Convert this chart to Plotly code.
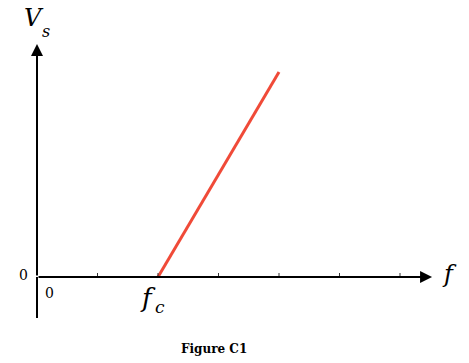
import plotly.graph_objects as go

# data
f_line = [2.0, 4.0]          # fc -> upper end (tick units)
vs_line = [0.0, 4.1]
tick_vals = [1, 2, 3, 4, 5, 6]

# axes extents (data units)
x_axis_end = 6.53
y_axis_top = 4.66
y_axis_bottom = -0.82

fig = go.Figure()
fig.add_trace(go.Scatter(x=f_line, y=vs_line, mode="lines",
                         line=dict(color="#f04a38", width=3), showlegend=False,
                         hoverinfo="skip"))

serif = "DejaVu Serif"
shapes = []
shapes.append(dict(type="line", x0=0, x1=0, y0=y_axis_bottom, y1=0,
                   line=dict(color="black", width=2)))
for t in tick_vals:
    shapes.append(dict(type="line", x0=t, x1=t, y0=0, y1=0.08,
                       line=dict(color="#333", width=1)))

annotations = [
    dict(x=x_axis_end, y=0, ax=0, ay=0, xref="x", yref="y", axref="x", ayref="y",
         showarrow=True, arrowhead=2, arrowsize=1.2, arrowwidth=2, arrowcolor="black", text=""),
    dict(x=0, y=y_axis_top, ax=0, ay=0, xref="x", yref="y", axref="x", ayref="y",
         showarrow=True, arrowhead=2, arrowsize=1.2, arrowwidth=2, arrowcolor="black", text=""),
    dict(x=-0.05, y=5.18, xref="x", yref="y", showarrow=False,
         text="<i>V</i>", font=dict(family=serif, size=24, color="black")),
    dict(x=0.15, y=4.92, xref="x", yref="y", showarrow=False,
         text="<i>s</i>", font=dict(family=serif, size=16, color="black")),
    dict(x=-0.22, y=0.04, xref="x", yref="y", showarrow=False,
         text="0", font=dict(family=serif, size=14, color="black")),
    dict(x=0.2, y=-0.32, xref="x", yref="y", showarrow=False,
         text="0", font=dict(family=serif, size=14, color="black")),
    dict(x=1.83, y=-0.42, xref="x", yref="y", showarrow=False,
         text="<i>f</i>", font=dict(family=serif, size=26, color="black")),
    dict(x=2.03, y=-0.6, xref="x", yref="y", showarrow=False,
         text="<i>c</i>", font=dict(family=serif, size=17, color="black")),
    dict(x=6.81, y=0.06, xref="x", yref="y", showarrow=False,
         text="<i>f</i>", font=dict(family=serif, size=24, color="black")),
    dict(x=2.92, y=-1.44, xref="x", yref="y", showarrow=False,
         text="<b>Figure C1</b>", font=dict(family=serif, size=12, color="black")),
]

fig.update_layout(
    width=469, height=363,
    margin=dict(l=0, r=0, t=0, b=0),
    paper_bgcolor="white", plot_bgcolor="white",
    font=dict(family=serif),
    xaxis=dict(range=[-0.6116, 7.1405], visible=False, fixedrange=True),
    yaxis=dict(range=[-1.72, 5.54], visible=False, fixedrange=True),
    shapes=shapes, annotations=annotations,
)
fig.write_html("out.html")
